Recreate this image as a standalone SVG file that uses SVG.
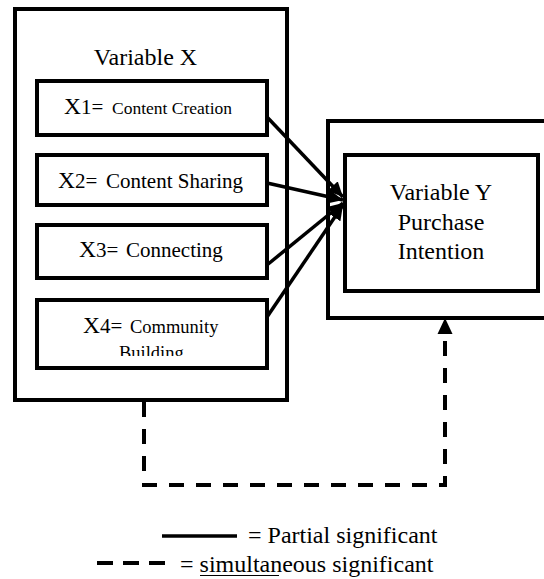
<svg xmlns="http://www.w3.org/2000/svg" width="544" height="579" viewBox="0 0 544 579" font-family="'Liberation Serif', 'DejaVu Serif', serif">
<style>
text{font-family:'Liberation Serif','DejaVu Serif',serif;fill:#000}
.box{fill:#fff;stroke:#000;stroke-width:4}
.ibox{fill:#fff;stroke:#000;stroke-width:4}
.t{font-size:24px}
.solid{stroke:#000;stroke-width:3.5;fill:none}
.dash{stroke:#000;stroke-width:4;fill:none;stroke-dasharray:15 12}
</style>
<defs>
<marker id="ah" markerUnits="userSpaceOnUse" markerWidth="16" markerHeight="14" refX="15" refY="7" orient="auto">
<path d="M0,0 L15,7 L0,14 z" fill="#000"/>
</marker>
<clipPath id="c4"><rect x="39" y="300" width="228" height="56"/></clipPath>
</defs>

<g id="variable-x">
<rect class="box" x="15" y="9" width="272" height="391"/>
<text class="t" x="145.5" y="65" text-anchor="middle">Variable X</text>
</g>

<g id="x1">
<rect class="ibox" x="37" y="81" width="230" height="54"/>
<text y="114"><tspan x="64" font-size="23.5">X</tspan><tspan x="81" font-size="21">1=</tspan><tspan x="112" font-size="17.5">Content Creation</tspan></text>
</g>

<g id="x2">
<rect class="ibox" x="37" y="155" width="230" height="50"/>
<text y="188"><tspan x="58" font-size="23.5">X</tspan><tspan x="75" font-size="21">2=</tspan><tspan x="106" font-size="21">Content Sharing</tspan></text>
</g>

<g id="x3">
<rect class="ibox" x="37" y="225" width="230" height="53"/>
<text y="257"><tspan x="79" font-size="23.5">X</tspan><tspan x="96" font-size="21">3=</tspan><tspan x="126" font-size="21">Connecting</tspan></text>
</g>

<g id="x4">
<rect class="ibox" x="37" y="300" width="230" height="68"/>
<text y="333"><tspan x="83" font-size="23.5">X</tspan><tspan x="100" font-size="21">4=</tspan><tspan x="130" font-size="18.5">Community</tspan></text>
<text x="119" y="359" font-size="18.5" clip-path="url(#c4)">Building</text>
</g>

<g id="variable-y">
<rect class="box" x="328" y="121" width="222" height="197"/>
<rect class="ibox" x="345" y="155" width="193" height="136"/>
<text class="t" x="441" y="200" text-anchor="middle">Variable Y</text>
<text class="t" x="441" y="230" text-anchor="middle">Purchase</text>
<text class="t" x="441" y="259" text-anchor="middle">Intention</text>
</g>

<g id="connectors">
<line class="solid" x1="267" y1="117" x2="343" y2="197" marker-end="url(#ah)"/>
<line class="solid" x1="267" y1="183" x2="343" y2="200" marker-end="url(#ah)"/>
<line class="solid" x1="267" y1="265" x2="343" y2="203" marker-end="url(#ah)"/>
<line class="solid" x1="267" y1="317" x2="343" y2="205" marker-end="url(#ah)"/>
<path class="dash" d="M144,402 V485 H445 V334"/>
<path d="M437.5,334 L445,318 L452.5,334 z" fill="#000"/>
</g>

<g id="legend">
<line x1="162" y1="536" x2="237" y2="536" stroke="#000" stroke-width="3.5"/>
<text class="t" x="248" y="543">= Partial significant</text>
<line x1="97" y1="563" x2="170" y2="563" stroke="#000" stroke-width="4" stroke-dasharray="16 10"/>
<text class="t" x="180" y="572">= simultaneous significant</text>
<line x1="200" y1="575.5" x2="279" y2="575.5" stroke="#000" stroke-width="1"/>
</g>
</svg>
